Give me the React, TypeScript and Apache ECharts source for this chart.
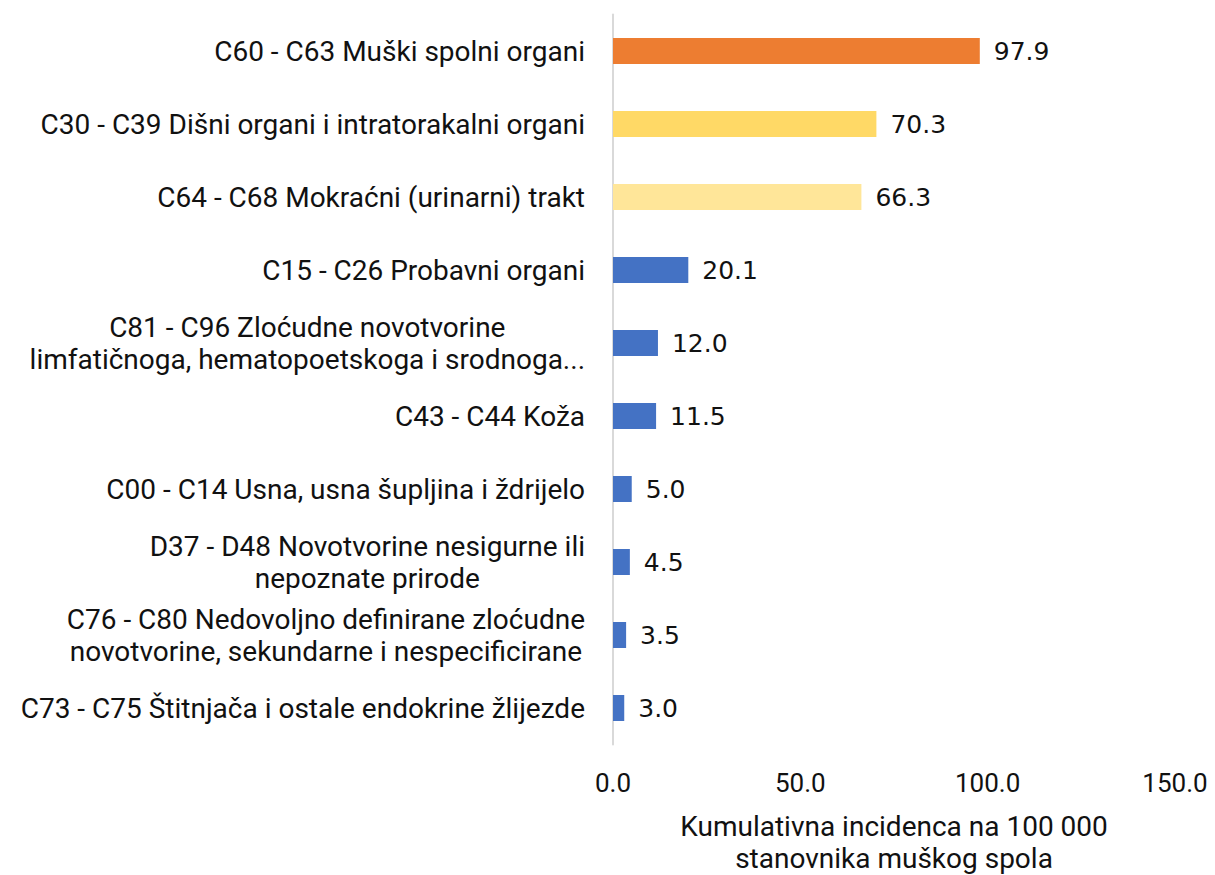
import React, { useEffect, useRef } from "react";
import * as echarts from "echarts";

const categories = [
  "C60 - C63 Muški spolni organi",
  "C30 - C39 Dišni organi i intratorakalni organi",
  "C64 - C68 Mokraćni (urinarni) trakt",
  "C15 - C26 Probavni organi",
  "C81 - C96 Zloćudne novotvorine\nlimfatičnoga, hematopoetskoga i srodnoga...",
  "C43 - C44 Koža",
  "C00 - C14 Usna, usna šupljina i ždrijelo",
  "D37 - D48 Novotvorine nesigurne ili\nnepoznate prirode",
  "C76 - C80 Nedovoljno definirane zloćudne\nnovotvorine, sekundarne i nespecificirane",
  "C73 - C75 Štitnjača i ostale endokrine žlijezde",
];
const values = [97.9, 70.3, 66.3, 20.1, 12.0, 11.5, 5.0, 4.5, 3.5, 3.0];
const barColors = [
  "#ED7D31",
  "#FFD966",
  "#FFE699",
  "#4472C4",
  "#4472C4",
  "#4472C4",
  "#4472C4",
  "#4472C4",
  "#4472C4",
  "#4472C4",
];
const xTicks = [0, 50, 100, 150];
const xAxisName = "Kumulativna incidenca na 100 000\nstanovnika muškog spola";

const FONT = "Roboto, 'Noto Sans', sans-serif";
const W = 1215;
const H = 875;

export default function App() {
  const ref = useRef<HTMLDivElement>(null);
  useEffect(() => {
    document.body.style.margin = "0";
    document.body.style.overflow = "hidden";
    const chart = echarts.init(ref.current!, null, { renderer: "svg", width: W, height: H });
    chart.setOption({
      animation: false,
      backgroundColor: "#ffffff",
      grid: {
        left: 613,
        right: 40,
        top: 14.5,
        bottom: 130.5,
        containLabel: false,
        outerBoundsMode: "none",
      },
      xAxis: {
        type: "value",
        min: xTicks[0],
        max: xTicks[xTicks.length - 1],
        interval: 50,
        axisLine: { show: false },
        axisTick: { show: false },
        splitLine: { show: false },
        axisLabel: {
          margin: 25,
          fontSize: 26,
          color: "#111",
          fontFamily: FONT,
          formatter: (v: number) => v.toFixed(1),
        },
        name: xAxisName,
        nameLocation: "middle",
        nameGap: 66,
        nameTextStyle: {
          fontSize: 28,
          lineHeight: 32,
          color: "#111",
          fontFamily: FONT,
          verticalAlign: "top",
        },
      },
      yAxis: {
        type: "category",
        inverse: true,
        data: categories,
        axisLine: { show: true, lineStyle: { color: "#d9d9d9", width: 2 } },
        axisTick: { show: false },
        axisLabel: {
          margin: 28,
          fontSize: 28,
          lineHeight: 32,
          color: "#111",
          fontFamily: FONT,
          align: "right",
          formatter: (v: string) =>
            v
              .split("\n")
              .map((line) => "{c|" + line + "}")
              .join("\n"),
          rich: {
            c: {
              align: "center",
              fontSize: 28,
              lineHeight: 32,
              color: "#111",
              fontFamily: FONT,
            },
          },
        },
      },
      series: [
        {
          type: "bar",
          data: values.map((v, i) => ({ value: v, itemStyle: { color: barColors[i] } })),
          barWidth: 26,
          label: {
            show: true,
            position: "right",
            distance: 14,
            fontSize: 25,
            color: "#111",
            fontFamily: "'DejaVu Sans', sans-serif",
            formatter: (p: any) => Number(p.value).toFixed(1),
          },
        },
      ],
    });
    return () => chart.dispose();
  }, []);
  return (
    <div
      ref={ref}
      style={{ position: "absolute", left: 0, top: 0, width: W, height: H }}
    />
  );
}
